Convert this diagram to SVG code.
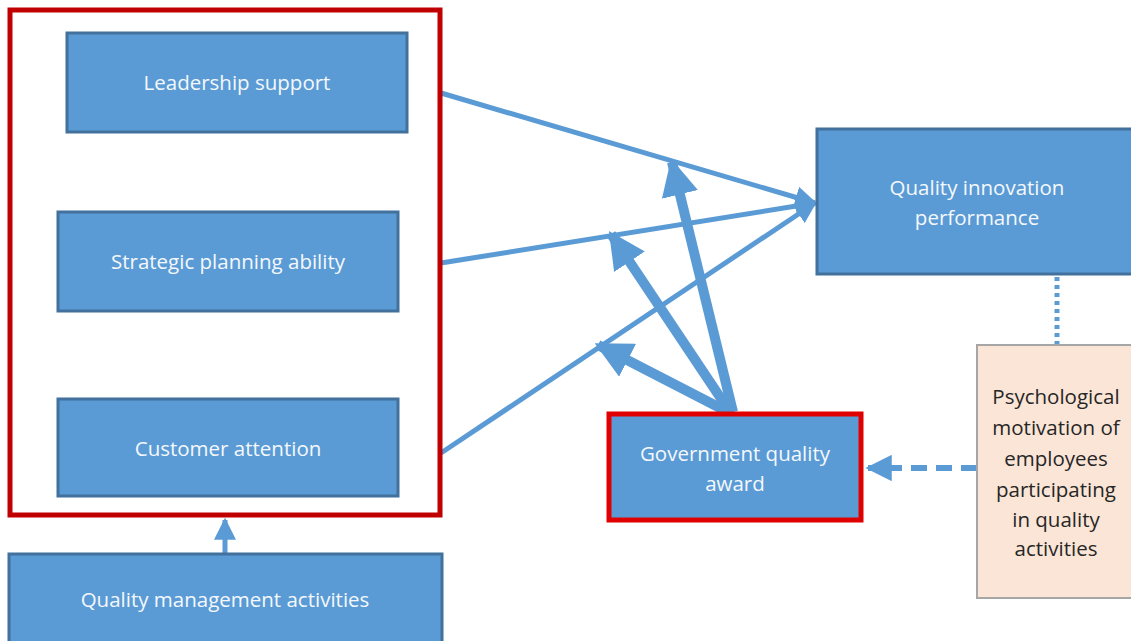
<svg xmlns="http://www.w3.org/2000/svg" width="1131" height="641" viewBox="0 0 1131 641">
  <style>
    .box { fill: #5b9bd5; stroke: #41719c; stroke-width: 3; }
    .frame { fill: none; stroke: #c00000; stroke-width: 5; }
    .lbl { font-family: "Open Sans", "Liberation Sans", sans-serif; font-size: 20.5px; fill: #f4f8fc; text-anchor: middle; }
    .dark { font-family: "Open Sans", "Liberation Sans", sans-serif; font-size: 20.5px; fill: #262626; text-anchor: middle; }
    .thin { stroke: #5b9bd5; stroke-width: 5; fill: none; }
    .thick { stroke: #5b9bd5; stroke-width: 10; fill: none; }
  </style>
  <defs>
    <marker id="headS" viewBox="0 0 10 10" refX="9" refY="5" markerWidth="4.4" markerHeight="4.4" markerUnits="strokeWidth" orient="auto">
      <path d="M0,0 L10,5 L0,10 z" fill="#5b9bd5"/>
    </marker>
    <marker id="headL" viewBox="0 0 10 10" refX="9" refY="5" markerWidth="3.7" markerHeight="3.7" markerUnits="strokeWidth" orient="auto">
      <path d="M0,0 L10,5 L0,10 z" fill="#5b9bd5"/>
    </marker>
  </defs>
  <rect width="1131" height="641" fill="#ffffff"/>

  <!-- connectors -->
  <g id="connectors">
    <line class="thin" x1="441" y1="93" x2="815" y2="203" marker-end="url(#headS)"/>
    <line class="thin" x1="441" y1="263" x2="815" y2="203" marker-end="url(#headS)"/>
    <line class="thin" x1="441" y1="453" x2="815" y2="203" marker-end="url(#headS)"/>
    <line class="thick" x1="733" y1="412" x2="672" y2="162" marker-end="url(#headL)"/>
    <line class="thick" x1="730" y1="412" x2="611" y2="234" marker-end="url(#headL)"/>
    <line class="thick" x1="728" y1="412" x2="598" y2="345" marker-end="url(#headL)"/>
    <line class="thin" x1="225" y1="553" x2="225" y2="520" marker-end="url(#headS)"/>
    <line x1="1057" y1="277" x2="1057" y2="345" stroke="#5b9bd5" stroke-width="5" stroke-dasharray="4,4"/>
    <line x1="977" y1="468" x2="868" y2="468" stroke="#5b9bd5" stroke-width="6" stroke-dasharray="16,9" marker-end="url(#headS)"/>
  </g>

  <!-- group frame around the three factors -->
  <g id="factors">
    <rect class="frame" x="10" y="10" width="430" height="505"/>
  </g>

  <g id="leadership">
    <rect class="box" x="67" y="33" width="340" height="99"/>
    <text class="lbl" x="237" y="90">Leadership support</text>
  </g>
  <g id="strategic">
    <rect class="box" x="58" y="212" width="340" height="99"/>
    <text class="lbl" x="228" y="269">Strategic planning ability</text>
  </g>
  <g id="customer">
    <rect class="box" x="58" y="399" width="340" height="97"/>
    <text class="lbl" x="228" y="456">Customer attention</text>
  </g>
  <g id="qm-activities">
    <rect class="box" x="9" y="554" width="433" height="95"/>
    <text class="lbl" x="225" y="607">Quality management activities</text>
  </g>
  <g id="innovation">
    <rect class="box" x="817" y="129" width="320" height="145"/>
    <text class="lbl" x="977" y="195">Quality innovation</text>
    <text class="lbl" x="977" y="225">performance</text>
  </g>
  <g id="award">
    <rect x="609" y="414" width="252" height="106" fill="#5b9bd5" stroke="#e00000" stroke-width="5"/>
    <text class="lbl" x="735" y="461">Government quality</text>
    <text class="lbl" x="735" y="491">award</text>
  </g>
  <g id="motivation">
    <rect x="977" y="345" width="160" height="253" fill="#fbe5d6" stroke="#a6a6a6" stroke-width="2"/>
    <text class="dark" x="1056" y="404">Psychological</text>
    <text class="dark" x="1056" y="435">motivation of</text>
    <text class="dark" x="1056" y="466">employees</text>
    <text class="dark" x="1056" y="497">participating</text>
    <text class="dark" x="1056" y="527">in quality</text>
    <text class="dark" x="1056" y="556">activities</text>
  </g>
</svg>
